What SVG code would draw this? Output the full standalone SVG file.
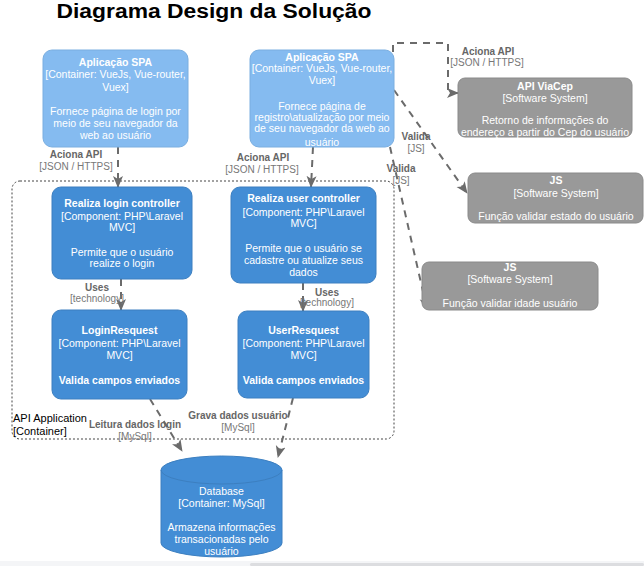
<svg xmlns="http://www.w3.org/2000/svg" width="644" height="566" viewBox="0 0 644 566">
<defs>
<marker id="arr" markerUnits="userSpaceOnUse" markerWidth="12" markerHeight="12" viewBox="0 0 12 12" refX="11" refY="6" orient="auto">
<path d="M0,1 L12,6 L0,11 L3,6 z" fill="#6b6b6b"/>
</marker>
<style>
text{font-family:"Liberation Sans",Arial,sans-serif;}
.t{fill:#fff;font-size:10.5px;text-anchor:middle;}
.b{font-weight:bold;}
.spa{fill:#85BBF0;stroke:#7AAEE0;stroke-width:1;}
.cmp{fill:#438DD5;stroke:#3C7FC0;stroke-width:1;}
.ext{fill:#999999;stroke:#8A8A8A;stroke-width:1;}
.c{fill:none;stroke:#6b6b6b;stroke-width:2;stroke-dasharray:7,6;marker-end:url(#arr);}
.lb{fill:#666;font-size:10px;text-anchor:middle;font-weight:bold;}
.lt{fill:#777;font-size:10px;text-anchor:middle;}
</style>
</defs>
<rect width="644" height="566" fill="#fff"/>
<rect x="0" y="561" width="644" height="5" fill="#f4f5f7"/>
<rect x="250" y="563" width="394" height="3" rx="1.5" fill="#dcdde0"/>
<text x="214" y="18" font-size="20" font-weight="bold" text-anchor="middle" textLength="315" lengthAdjust="spacingAndGlyphs" fill="#000">Diagrama Design da Solução</text>

<g id="boundary">
<rect x="12" y="181" width="382" height="258" rx="8" fill="none" stroke="#444" stroke-width="1" stroke-dasharray="2,2"/>
<text x="13" y="422" font-size="11" fill="#000">API Application</text>
<text x="13" y="435" font-size="11" fill="#000">[Container]</text>
</g>

<g id="connectors">
<path class="c" d="M118,147 L118,187"/>
<path class="c" d="M313,147 L311,187"/>
<path class="c" d="M121,279 L121,310"/>
<path class="c" d="M303,283 L303,311"/>
<path class="c" d="M150,399 L182,451"/>
<path class="c" d="M293,398 L278,457"/>
<path class="c" d="M393,52 V43 H448 V93 H458"/>
<path class="c" d="M394,90 L467,193"/>
<path class="c" d="M390,147 L427,309"/>
<text class="lb" x="76" y="158">Aciona API</text>
<text class="lt" x="76" y="170">[JSON / HTTPS]</text>
<text class="lb" x="263" y="161">Aciona API</text>
<text class="lt" x="262" y="173">[JSON / HTTPS]</text>
<text class="lb" x="97" y="291">Uses</text>
<text class="lt" x="97" y="302">[technology]</text>
<text class="lb" x="327" y="296">Uses</text>
<text class="lt" x="327" y="306">[technology]</text>
<text class="lb" x="135" y="428">Leitura dados login</text>
<text class="lt" x="135" y="440">[MySql]</text>
<text class="lb" x="238" y="419">Grava dados usuário</text>
<text class="lt" x="238" y="431">[MySql]</text>
<text class="lb" x="488" y="55">Aciona API</text>
<text class="lt" x="487" y="66">[JSON / HTTPS]</text>
<text class="lb" x="416" y="140">Valida</text>
<text class="lt" x="416" y="152">[JS]</text>
<text class="lb" x="401" y="172">Valida</text>
<text class="lt" x="401" y="184">[JS]</text>
</g>

<g id="spa-login">
<rect class="spa" x="43" y="50" width="145" height="97" rx="9"/>
<text class="t b" x="115.5" y="66">Aplicação SPA</text>
<text class="t" x="115.5" y="78">[Container: VueJs, Vue-router,</text>
<text class="t" x="115.5" y="91">Vuex]</text>
<text class="t" x="115.5" y="115">Fornece página de login por</text>
<text class="t" x="115.5" y="127">meio de seu navegador da</text>
<text class="t" x="115.5" y="139">web ao usuário</text>
</g>

<g id="spa-registro">
<rect class="spa" x="250" y="50" width="144" height="97" rx="9"/>
<text class="t b" x="322" y="61">Aplicação SPA</text>
<text class="t" x="322" y="72">[Container: VueJs, Vue-router,</text>
<text class="t" x="322" y="84">Vuex]</text>
<text class="t" x="322" y="110">Fornece página de</text>
<text class="t" x="322" y="121">registro\atualização por meio</text>
<text class="t" x="322" y="132">de seu navegador da web ao</text>
<text class="t" x="322" y="146">usuário</text>
</g>

<g id="login-controller">
<rect class="cmp" x="52" y="187" width="140" height="92" rx="9"/>
<text class="t b" x="122" y="207">Realiza login controller</text>
<text class="t" x="122" y="220">[Component: PHP\Laravel</text>
<text class="t" x="122" y="231">MVC]</text>
<text class="t" x="122" y="256">Permite que o usuário</text>
<text class="t" x="122" y="267">realize o login</text>
</g>

<g id="user-controller">
<rect class="cmp" x="231" y="187" width="145" height="96" rx="9"/>
<text class="t b" x="303.5" y="202">Realiza user controller</text>
<text class="t" x="303.5" y="216">[Component: PHP\Laravel</text>
<text class="t" x="303.5" y="227">MVC]</text>
<text class="t" x="303.5" y="252">Permite que o usuário se</text>
<text class="t" x="303.5" y="264">cadastre ou atualize seus</text>
<text class="t" x="303.5" y="276">dados</text>
</g>

<g id="login-request">
<rect class="cmp" x="52" y="310" width="135" height="89" rx="9"/>
<text class="t b" x="119.5" y="334">LoginResquest</text>
<text class="t" x="119.5" y="347">[Component: PHP\Laravel</text>
<text class="t" x="119.5" y="359">MVC]</text>
<text class="t b" x="119.5" y="384">Valida campos enviados</text>
</g>

<g id="user-request">
<rect class="cmp" x="238" y="311" width="131" height="87" rx="9"/>
<text class="t b" x="303.5" y="334">UserResquest</text>
<text class="t" x="303.5" y="347">[Component: PHP\Laravel</text>
<text class="t" x="303.5" y="359">MVC]</text>
<text class="t b" x="303.5" y="384">Valida campos enviados</text>
</g>

<g id="database">
<path d="M161,470 A60.5,14 0 0 1 282,470 V543 A60.5,14 0 0 1 161,543 Z" fill="#438DD5" stroke="#3C7FC0" stroke-width="1"/>
<path d="M161,470 A60.5,14 0 0 0 282,470" fill="none" stroke="#3C7FC0" stroke-width="1"/>
<text class="t" x="221.5" y="495">Database</text>
<text class="t" x="221.5" y="507">[Container: MySql]</text>
<text class="t" x="221.5" y="531">Armazena informações</text>
<text class="t" x="221.5" y="543">transacionadas pelo</text>
<text class="t" x="221.5" y="555">usuário</text>
</g>

<g id="api-viacep">
<rect class="ext" x="458" y="78" width="174" height="59" rx="7"/>
<text class="t b" x="545" y="90">API ViaCep</text>
<text class="t" x="545" y="102">[Software System]</text>
<text class="t" x="545" y="124">Retorno de informações do</text>
<text class="t" x="545" y="136">endereço a partir do Cep do usuário</text>
</g>

<g id="js-estado">
<rect class="ext" x="468" y="173" width="175" height="50" rx="7"/>
<text class="t b" x="556" y="184">JS</text>
<text class="t" x="556" y="197">[Software System]</text>
<text class="t" x="556" y="220">Função validar estado do usuário</text>
</g>

<g id="js-idade">
<rect class="ext" x="422" y="262" width="176" height="48" rx="7"/>
<text class="t b" x="510" y="271">JS</text>
<text class="t" x="510" y="283">[Software System]</text>
<text class="t" x="510" y="307">Função validar idade usuário</text>
</g>
</svg>
